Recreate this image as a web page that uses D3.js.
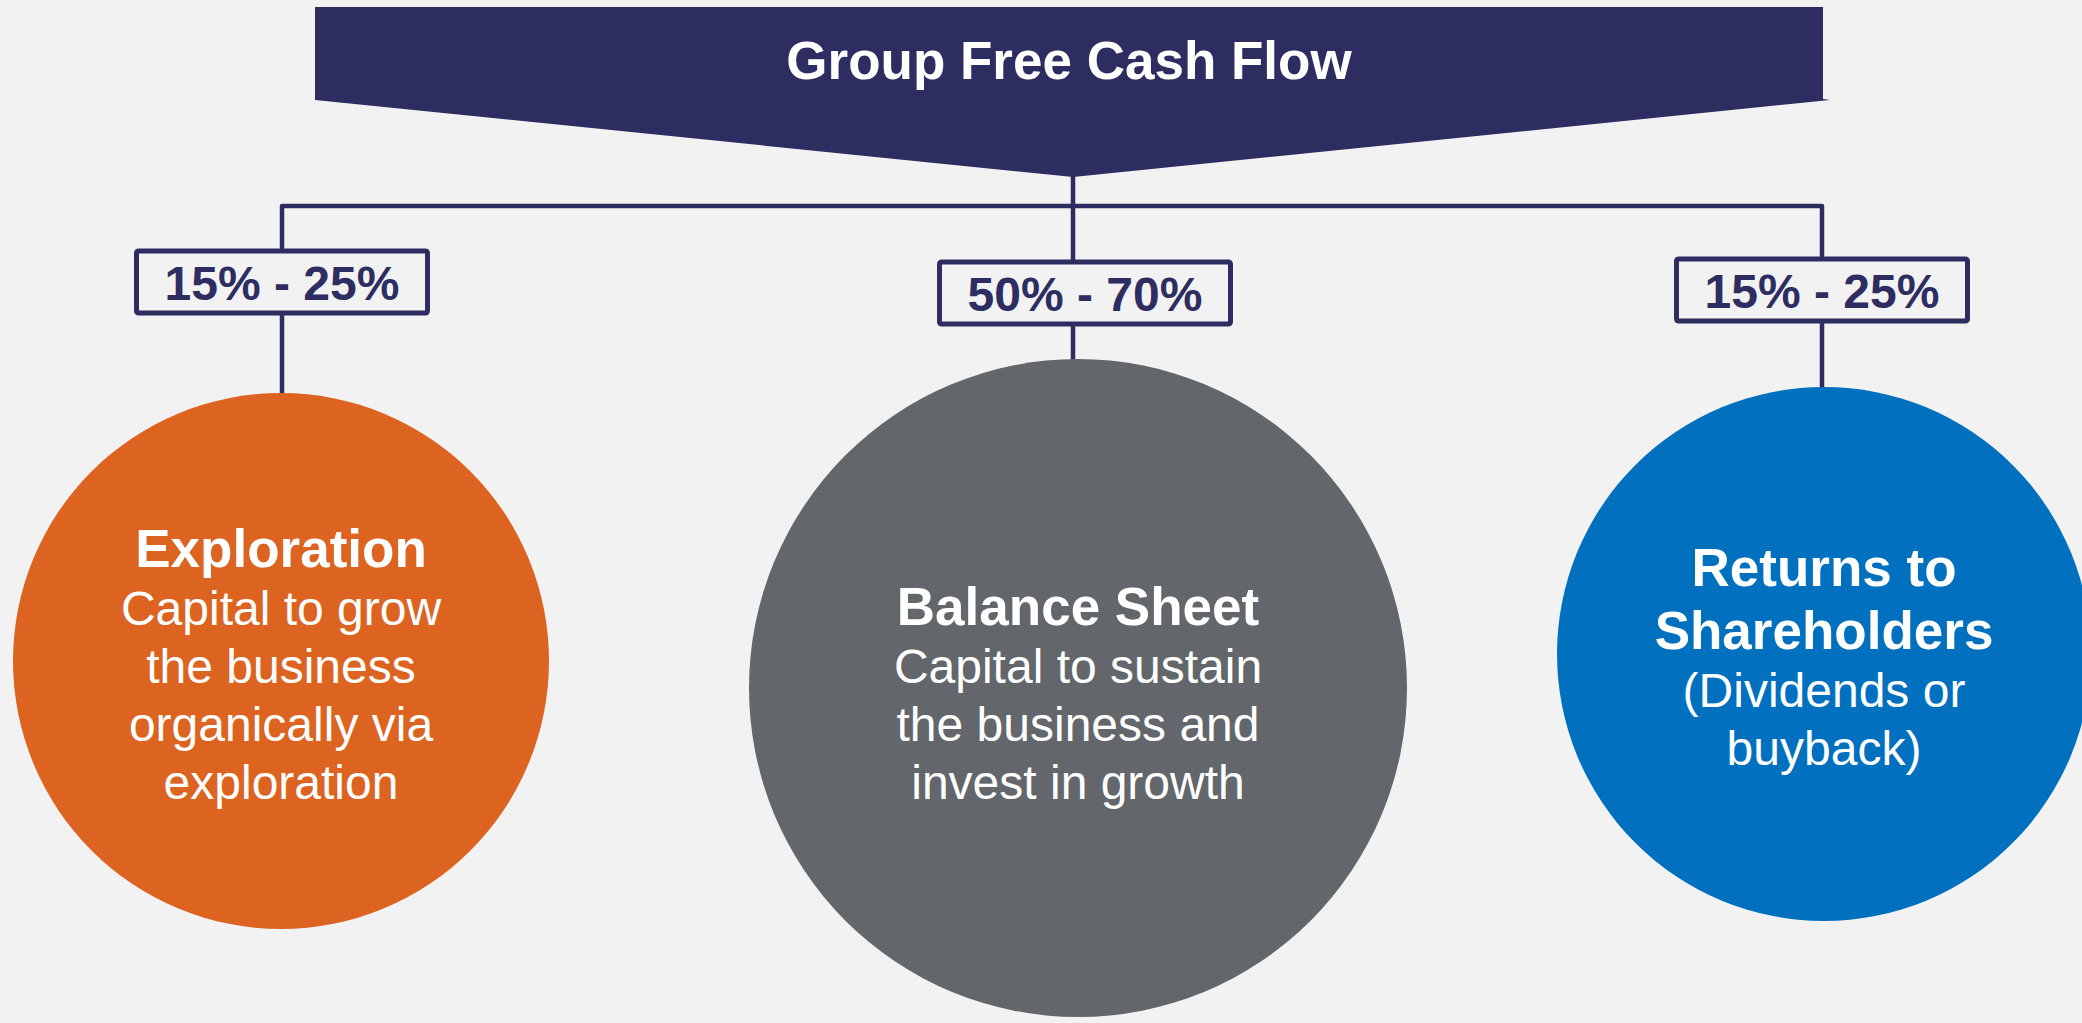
<!DOCTYPE html>
<html>
<head>
<meta charset="utf-8">
<script src="https://cdn.jsdelivr.net/npm/d3@7"></script>
<style>
  html, body { margin: 0; padding: 0; background: #F2F2F2; overflow: hidden; }
  svg { display: block; }
</style>
</head>
<body>
<svg id="chart" width="2082" height="1023"></svg>
<script>
// ---- data ----
const title = "Group Free Cash Flow";
const categories = ["Exploration", "Balance Sheet", "Returns to Shareholders"];
const rangeLow = [15, 50, 15];
const rangeHigh = [25, 70, 25];
const headingLines = [["Exploration"], ["Balance Sheet"], ["Returns to", "Shareholders"]];
const bodyLines = [
  ["Capital to grow", "the business", "organically via", "exploration"],
  ["Capital to sustain", "the business and", "invest in growth"],
  ["(Dividends or", "buyback)"]
];
const colors = ["#DC6320", "#63666A", "#0070BF"];

// ---- layout (positions / sizes) ----
const W = 2082, H = 1023;
const navy = "#2E2D62", bg = "#F2F2F2";
const font = "'Liberation Sans', Arial, Helvetica, sans-serif";
const branchX = [282, 1073, 1822];
const circleCX = [281, 1078, 1824];
const circleCY = [661, 688, 654];
const circleR = [268, 329, 267];
const boxCX = [282, 1085, 1822];
const boxTop = [251, 262, 259];
const boxW = 291, boxH = 62;
const firstBaseline = [567, 625, 586];
const banner = {x0: 315, x1: 1823, top: 7, bottom: 100, tipX: 1073, tipY: 177};
const busY = 206;

const svg = d3.select("#chart");
svg.append("rect").attr("width", W).attr("height", H).attr("fill", bg);

// banner
const bannerPts = [
  [banner.x0, banner.top], [banner.x1, banner.top], [banner.x1, banner.bottom - 1],
  [banner.x1 + 7, banner.bottom], [banner.tipX, banner.tipY], [banner.x0, banner.bottom]
];
svg.append("path")
  .attr("d", d3.line()(bannerPts) + "Z")
  .attr("fill", navy);
svg.append("text")
  .attr("x", (banner.x0 + banner.x1) / 2).attr("y", 79)
  .attr("text-anchor", "middle")
  .attr("font-family", font).attr("font-weight", "bold").attr("font-size", 53)
  .attr("fill", "#FFFFFF")
  .text(title);

// connectors
const lineW = 4.5;
const conn = svg.append("g").attr("fill", "none").attr("stroke", navy)
  .attr("stroke-width", lineW).attr("stroke-linejoin", "round").attr("stroke-linecap", "butt");
// bus with rounded corners at ends
conn.append("path").attr("d", d3.line()([
  [branchX[0], boxTop[0]], [branchX[0], busY], [branchX[2], busY], [branchX[2], boxTop[2]]
]));
conn.append("path").attr("d", d3.line()([[branchX[1], banner.tipY - 2], [branchX[1], boxTop[1]]]));
// box -> circle
categories.forEach((c, i) => {
  conn.append("path").attr("d", d3.line()([
    [branchX[i], boxTop[i] + boxH], [branchX[i], circleCY[i] - circleR[i] + 2]
  ]));
});

// circles
const nodes = svg.selectAll("g.node").data(categories).join("g").attr("class", "node");
nodes.append("circle")
  .attr("cx", (d, i) => circleCX[i]).attr("cy", (d, i) => circleCY[i])
  .attr("r", (d, i) => circleR[i]).attr("fill", (d, i) => colors[i]);

nodes.each(function(d, i) {
  const g = d3.select(this);
  let y = firstBaseline[i];
  const items = [];
  headingLines[i].forEach((t, k) => {
    if (k > 0) y += 63;
    items.push({t, y, bold: true});
  });
  bodyLines[i].forEach((t) => {
    y += 58;
    items.push({t, y, bold: false});
  });
  g.selectAll("text").data(items).join("text")
    .attr("x", circleCX[i]).attr("y", e => e.y)
    .attr("text-anchor", "middle")
    .attr("font-family", font)
    .attr("font-weight", e => e.bold ? "bold" : "normal")
    .attr("font-size", e => e.bold ? 53 : 48)
    .attr("fill", "#FFFFFF")
    .text(e => e.t);
});

// range boxes
const fmt = d3.format("d");
const boxes = svg.selectAll("g.box").data(categories).join("g").attr("class", "box");
boxes.append("rect")
  .attr("x", (d, i) => boxCX[i] - boxW / 2).attr("y", (d, i) => boxTop[i])
  .attr("width", boxW).attr("height", boxH).attr("rx", 2)
  .attr("fill", bg).attr("stroke", navy).attr("stroke-width", 5);
boxes.append("text")
  .attr("x", (d, i) => boxCX[i]).attr("y", (d, i) => boxTop[i] + boxH / 2 + 18)
  .attr("text-anchor", "middle")
  .attr("font-family", font).attr("font-weight", "bold").attr("font-size", 48)
  .attr("fill", navy)
  .text((d, i) => `${fmt(rangeLow[i])}% - ${fmt(rangeHigh[i])}%`);
</script>
</body>
</html>
